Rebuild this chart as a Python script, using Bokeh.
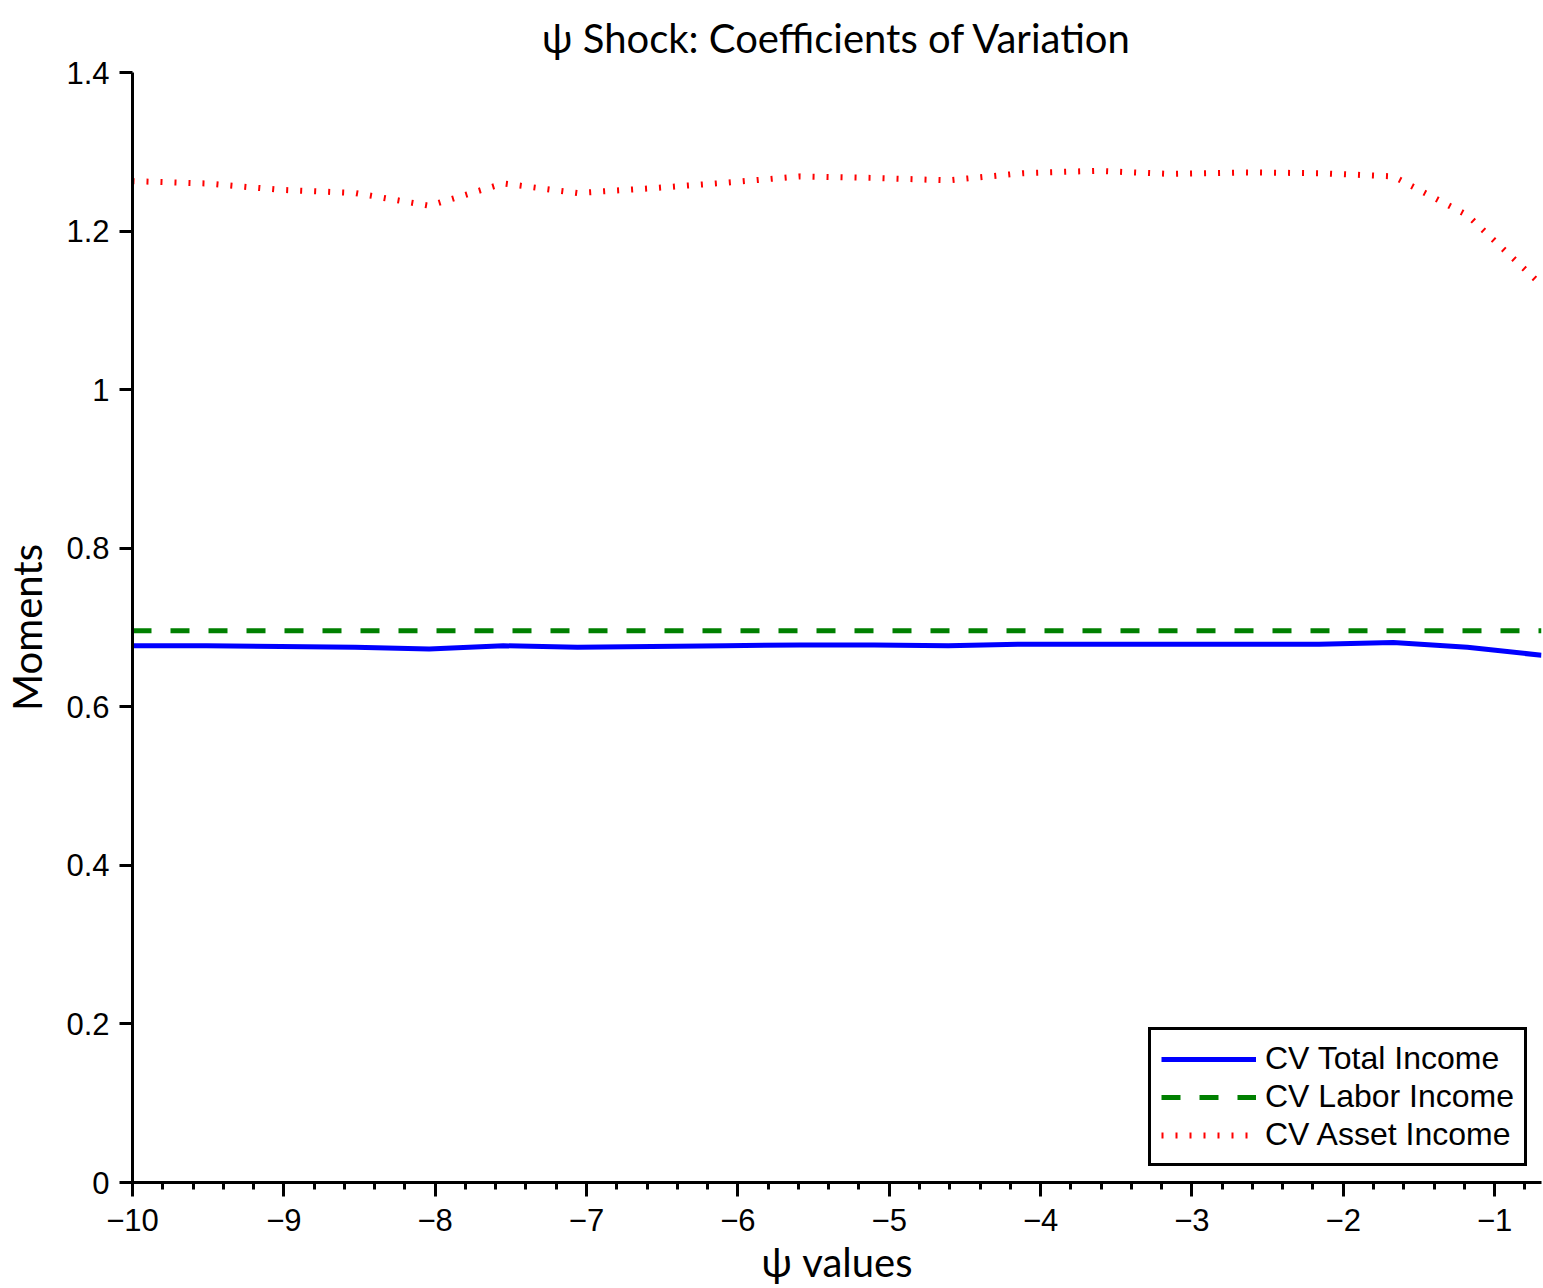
from bokeh.plotting import figure
from bokeh.models import Range1d, FixedTicker, CustomJSTickFormatter, Legend, LegendItem
from bokeh.embed import file_html
from bokeh.resources import INLINE

# ---- data ----
psi_values = [-10.0, -9.51, -9.02, -8.53, -8.04, -7.55, -7.06, -6.57, -6.08, -5.59,
              -5.10, -4.61, -4.12, -3.63, -3.14, -2.65, -2.16, -1.67, -1.18, -0.69]
cv_total = [0.677, 0.677, 0.676, 0.675, 0.673, 0.677, 0.675, 0.676, 0.677, 0.678,
            0.678, 0.677, 0.679, 0.679, 0.679, 0.679, 0.679, 0.681, 0.675, 0.665]
cv_labor = [0.696, 0.696, 0.696, 0.696, 0.696, 0.696, 0.696, 0.696, 0.696, 0.696,
            0.696, 0.696, 0.696, 0.696, 0.696, 0.696, 0.696, 0.696, 0.696, 0.696]
cv_asset = [1.263, 1.260, 1.252, 1.248, 1.232, 1.260, 1.248, 1.254, 1.261, 1.269,
            1.267, 1.264, 1.273, 1.276, 1.272, 1.274, 1.273, 1.269, 1.220, 1.132]
x_ticks = [-10, -9, -8, -7, -6, -5, -4, -3, -2, -1]
x_minor = [-10 + 0.2 * i for i in range(47)]
y_ticks = [0, 0.2, 0.4, 0.6, 0.8, 1, 1.2, 1.4]
series_names = ["CV Total Income", "CV Labor Income", "CV Asset Income"]
title_text = "ψ Shock: Coefficients of Variation"

TICK_FONT = "Liberation Sans"
TITLE_FONT = "Lato"

p = figure(width=1543, height=1288, output_backend="svg", toolbar_location=None,
           x_range=Range1d(-10, -0.69), y_range=Range1d(0, 1.4),
           min_border_left=131, min_border_right=2, min_border_top=72, min_border_bottom=106,
           title=title_text)
p.outline_line_color = None
p.grid.visible = False
p.background_fill_color = "white"
p.border_fill_color = "white"

p.title.align = "center"
p.title.text_font = TITLE_FONT
p.title.text_font_size = "40px"
p.title.text_font_style = "normal"
p.title.text_color = "black"
p.title.standoff = 22

fmt = CustomJSTickFormatter(code="return String(tick).replace('-', '\u2212');")

xa = p.xaxis[0]
xa.ticker = FixedTicker(ticks=x_ticks, minor_ticks=x_minor)
xa.formatter = fmt
xa.axis_line_width = 3
xa.major_tick_line_width = 3
xa.minor_tick_line_width = 3
xa.major_tick_out = 14
xa.major_tick_in = 0
xa.minor_tick_out = 7
xa.minor_tick_in = 0
xa.major_label_text_font = TICK_FONT
xa.major_label_text_font_size = "31px"
xa.major_label_text_color = "black"
xa.major_label_standoff = 12
xa.axis_label = "ψ values"
xa.axis_label_text_font = TITLE_FONT
xa.axis_label_text_font_size = "40px"
xa.axis_label_text_font_style = "normal"
xa.axis_label_text_color = "black"
xa.axis_label_standoff = 4

ya = p.yaxis[0]
ya.ticker = FixedTicker(ticks=y_ticks, minor_ticks=[])
ya.formatter = fmt
ya.axis_line_width = 3
ya.major_tick_line_width = 3
ya.major_tick_out = 13
ya.major_tick_in = 0
ya.minor_tick_out = 0
ya.minor_tick_in = 0
ya.major_label_text_font = TICK_FONT
ya.major_label_text_font_size = "31px"
ya.major_label_text_color = "black"
ya.major_label_standoff = 10
ya.axis_label = "Moments"
ya.axis_label_text_font = TITLE_FONT
ya.axis_label_text_font_size = "40px"
ya.axis_label_text_font_style = "normal"
ya.axis_label_text_color = "black"
ya.axis_label_standoff = 12

r_total = p.line(psi_values, cv_total, line_color="blue", line_width=5)
r_labor = p.line(psi_values, cv_labor, line_color="green", line_width=5, line_dash="19 19")
r_asset = p.line(psi_values, cv_asset, line_color="red", line_width=6, line_dash="2 12")

legend = Legend(items=[LegendItem(label=series_names[0], renderers=[r_total]),
                       LegendItem(label=series_names[1], renderers=[r_labor]),
                       LegendItem(label=series_names[2], renderers=[r_asset])],
                location=(1016, 16))
legend.border_line_color = "black"
legend.border_line_width = 3
legend.border_line_alpha = 1
legend.background_fill_alpha = 1
legend.label_text_font = TICK_FONT
legend.label_text_font_size = "32px"
legend.label_text_color = "black"
legend.glyph_width = 95
legend.glyph_height = 36
legend.label_height = 36
legend.label_standoff = 9
legend.spacing = 1
legend.padding = 10
legend.margin = 0
p.add_layout(legend, "center")

open("out.html", "w").write(file_html(p, INLINE))
